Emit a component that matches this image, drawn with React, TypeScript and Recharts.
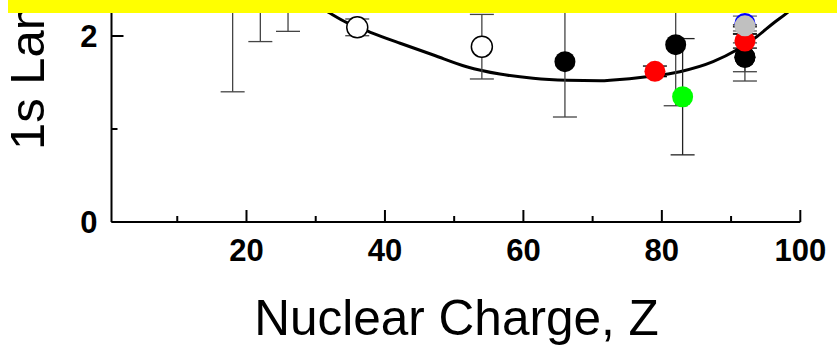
import React from 'react';
import { ComposedChart, Line, Scatter, XAxis, YAxis, ErrorBar, Label } from 'recharts';

// theory curve
const curveZ = [30, 32.1, 34.5, 37.9, 42.2, 47.0, 51.8, 56.6, 61.4, 66.3, 71.1, 73.0, 77.8, 82.6, 87.4, 90.8, 93.7, 96.1, 98.0, 100];
const curveVal = [2.34, 2.244, 2.143, 2.04, 1.922, 1.796, 1.67, 1.591, 1.545, 1.524, 1.519, 1.527, 1.562, 1.616, 1.724, 1.849, 1.992, 2.137, 2.244, 2.37];

// measurements
const blackZ = [18, 22, 26, 66, 82, 92, 92];
const blackVal = [2.45, 2.6, 2.55, 1.724, 1.907, 1.771, 1.771];
const blackErr = [1.05, 0.66, 0.5, 0.595, 0.657, 0.155, 0.255];

const openZ = [36, 54];
const openVal = [2.093, 1.885];
const openErr = [0.09, 0.347];

const redZ = [79, 92];
const redVal = [1.62, 1.945];
const redErr = [0.057, 0.075];

const greenZ = [83];
const greenVal = [1.347];
const greenErr = [0.625];

const blueZ = [92];
const blueVal = [2.134];
const blueErr = [0.08];

const grayZ = [92];
const grayVal = [2.109];
const grayErr = [0.01];

const xTicks = [10, 20, 30, 40, 50, 60, 70, 80, 90, 100];
const yTicks = [0, 1, 2, 3];

const pts = (z: number[], v: number[], e: number[]) => z.map((x, i) => ({ z: x, v: v[i], e: e[i] }));
const curve = curveZ.map((z, i) => ({ z, v: curveVal[i] }));

const FONT = '"Liberation Sans", Arial, sans-serif';

const dot = (fill: string, stroke = 'none') => (p: any) => (
  <circle cx={p.cx} cy={p.cy} r={10.5} fill={fill} stroke={stroke} strokeWidth={1.5} />
);
const none = () => <g />;

const XTick = (p: any) => {
  const v = p.payload.value;
  const major = v % 20 === 0;
  return (
    <g>
      <line x1={p.x} x2={p.x} y1={p.y} y2={p.y - (major ? 12 : 6)} stroke="#000" strokeWidth={2} />
      {major && (
        <text x={p.x} y={p.y + 39} textAnchor="middle" fontSize={31} fontWeight="bold" fontFamily={FONT} fill="#000">
          {v}
        </text>
      )}
    </g>
  );
};

const YTick = (p: any) => {
  const v = p.payload.value;
  const major = v % 2 === 0;
  return (
    <g>
      <line x1={p.x} x2={p.x + (major ? 12 : 6)} y1={p.y} y2={p.y} stroke="#000" strokeWidth={2} />
      {major && (
        <text x={p.x - 14} y={p.y + 11} textAnchor="end" fontSize={31} fontWeight="bold" fontFamily={FONT} fill="#000">
          {v}
        </text>
      )}
    </g>
  );
};

export default function App() {
  const bar = { direction: 'y' as const, dataKey: 'e', width: 12, strokeWidth: 1.3 };
  const open = pts(openZ, openVal, openErr);
  const black = pts(blackZ, blackVal, blackErr);
  const green = pts(greenZ, greenVal, greenErr);
  const red = pts(redZ, redVal, redErr);
  const blue = pts(blueZ, blueVal, blueErr);
  const gray = pts(grayZ, grayVal, grayErr);
  return (
    <div style={{ position: 'absolute', left: 0, top: 0, width: 837, height: 347, overflow: 'hidden', background: '#fff' }}>
      <div style={{ position: 'absolute', left: 0, top: -67 }}>
        <ComposedChart width={837} height={414} margin={{ top: 10, right: 36.7, bottom: 65, left: 51.5 }}>
          <XAxis
            type="number"
            dataKey="z"
            domain={[0.5, 100]}
            allowDataOverflow
            ticks={xTicks}
            interval={0}
            tickSize={0}
            tickMargin={0}
            tickLine={false}
            tick={XTick}
            height={60}
            axisLine={{ stroke: '#000', strokeWidth: 2 }}
          >
            <Label
              content={() => (
                <text x={456.5} y={402} textAnchor="middle" fontSize={49.5} fontFamily={FONT} fill="#000">
                  Nuclear Charge, Z
                </text>
              )}
            />
          </XAxis>
          <YAxis
            type="number"
            dataKey="v"
            domain={[0, 3]}
            allowDataOverflow
            ticks={yTicks}
            interval={0}
            tickSize={0}
            tickMargin={0}
            tickLine={false}
            tick={YTick}
            width={60}
            axisLine={{ stroke: '#000', strokeWidth: 2 }}
          >
            <Label
              content={() => (
                <text transform="translate(44,217) rotate(-90)" fontSize={49} fontFamily={FONT} fill="#000">
                  1s Lamb Shift
                </text>
              )}
            />
          </YAxis>
          <Line data={curve} dataKey="v" type="monotone" stroke="#000" strokeWidth={3} dot={false} isAnimationActive={false} />
          {/* bars under the symbols */}
          <Scatter data={open} shape={none} isAnimationActive={false}>
            <ErrorBar {...bar} stroke="#444" />
          </Scatter>
          <Scatter data={open} shape={dot('#fff', '#000')} isAnimationActive={false} />
          <Scatter data={black} shape={none} isAnimationActive={false}>
            <ErrorBar {...bar} stroke="#444" />
          </Scatter>
          <Scatter data={black} shape={dot('#000')} isAnimationActive={false} />
          <Scatter data={green} shape={none} isAnimationActive={false}>
            <ErrorBar {...bar} stroke="#222" />
          </Scatter>
          <Scatter data={green} shape={dot('#00ff00')} isAnimationActive={false} />
          {/* bars over the symbols */}
          <Scatter data={red} shape={dot('#ff0000')} isAnimationActive={false} />
          <Scatter data={red} shape={none} isAnimationActive={false}>
            <ErrorBar {...bar} stroke="#000" />
          </Scatter>
          <Scatter data={blue} shape={dot('#0000ff')} isAnimationActive={false} />
          <Scatter data={blue} shape={none} isAnimationActive={false}>
            <ErrorBar {...bar} stroke="#666" />
          </Scatter>
          <Scatter data={gray} shape={dot('#c0c0c0')} isAnimationActive={false} />
          <Scatter data={gray} shape={none} isAnimationActive={false}>
            <ErrorBar {...bar} stroke="#000" />
          </Scatter>
        </ComposedChart>
      </div>
      <div style={{ position: 'absolute', left: 8, top: 0, width: 829, height: 13, background: '#ffff00' }} />
    </div>
  );
}
